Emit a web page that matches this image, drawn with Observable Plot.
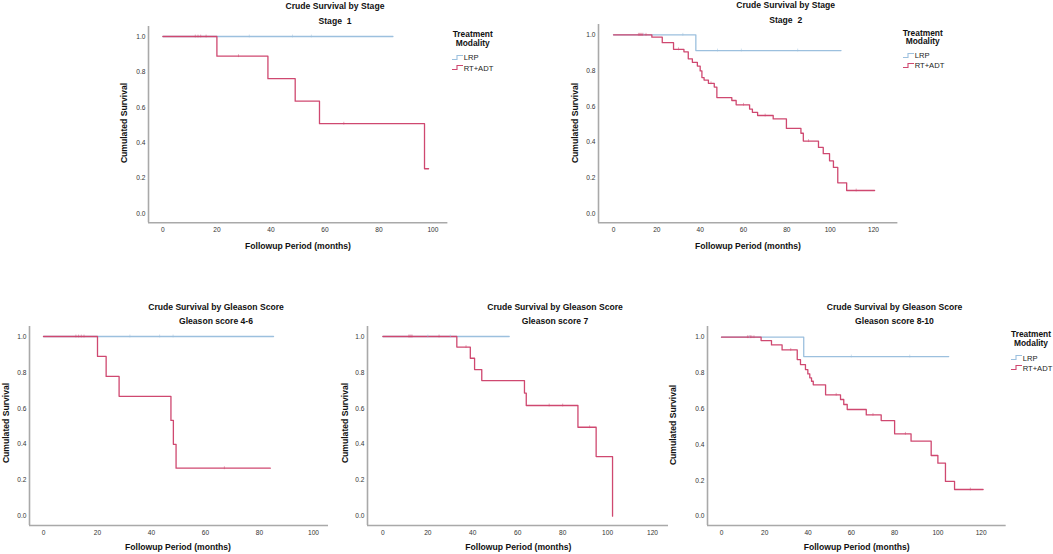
<!DOCTYPE html>
<html>
<head>
<meta charset="utf-8">
<script src="https://cdn.jsdelivr.net/npm/d3@7"></script>
<script src="https://cdn.jsdelivr.net/npm/@observablehq/plot@0.6"></script>
<style>
  html, body { margin: 0; padding: 0; background: #fff; }
  #root { position: relative; width: 1053px; height: 554px; overflow: hidden; background: #fff;
          font-family: "Liberation Sans", Arial, sans-serif; color: #111; }
  .abs { position: absolute; white-space: pre; }
  .title { font-weight: bold; font-size: 8.6px; transform: translate(-50%, -50%); }
  .axlab { font-weight: bold; font-size: 8.6px; transform: translate(-50%, -50%); }
  .ylab { font-weight: bold; font-size: 8.6px; transform: translate(-50%, -50%) rotate(-90deg); }
  .legt { font-weight: bold; font-size: 8.4px; transform: translate(-50%, -50%); }
  .legi { font-size: 7.6px; transform: translate(0, -50%); display: flex; align-items: center; color: #222; }
  .plotbox { position: absolute; }
</style>
</head>
<body>
<div id="root"></div>
<script>
// ---------- data ----------
const seriesNames = ["LRP", "RT+ADT"];
const seriesColors = ["#9cc0de", "#cf4870"];
const yTickValues = [0, 0.2, 0.4, 0.6, 0.8, 1.0];
const xTicks100 = [0, 20, 40, 60, 80, 100];
const xTicks120 = [0, 20, 40, 60, 80, 100, 120];

// Stage 1
const s1LrpTime = [0, 85.2];
const s1LrpSurv = [1, 1];
const s1RtTime = [0, 20, 38.9, 49, 58, 96.9, 98.4];
const s1RtSurv = [1, 0.889, 0.762, 0.635, 0.508, 0.254, 0.254];
const s1LrpCens = [32, 48, 55];
const s1RtCens = [12, 13, 14, 16, 28, 67];

// Stage 2
const s2LrpTime = [0, 38, 105];
const s2LrpSurv = [1, 0.912, 0.912];
const s2RtTime = [0, 17.7, 22.5, 27.7, 32.5, 34.5, 36.4, 38.7, 40, 40.8, 41.8, 43.8, 46.5, 47.7, 54.6, 56.6, 62.8, 64.1, 66.5, 73.7, 79.8, 86.5, 87.6, 94.6, 96.8, 99.7, 101.5, 103.5, 107.6, 120.5];
const s2RtSurv = [1, 0.987, 0.956, 0.919, 0.905, 0.866, 0.846, 0.825, 0.798, 0.761, 0.747, 0.729, 0.708, 0.649, 0.633, 0.609, 0.585, 0.567, 0.549, 0.530, 0.477, 0.45, 0.406, 0.371, 0.336, 0.296, 0.259, 0.173, 0.130, 0.130];
const s2LrpCens = [14, 32, 48, 59, 85];
const s2RtCens = [11.5, 12, 12.5, 13, 13.5, 15, 30, 45, 60, 70, 90, 112];

// Gleason 4-6
const g1LrpTime = [0, 85.2];
const g1LrpSurv = [1, 1];
const g1RtTime = [0, 20, 23.2, 28, 47.2, 48.1, 49.1, 84];
const g1RtSurv = [1, 0.889, 0.778, 0.667, 0.533, 0.4, 0.267, 0.267];
const g1LrpCens = [32, 43, 48];
const g1RtCens = [12, 13, 14, 15, 67];

// Gleason 7
const g2LrpTime = [0, 56.2];
const g2LrpSurv = [1, 1];
const g2RtTime = [0, 32.9, 38.9, 40.8, 44, 63, 63.8, 86.8, 94.9, 102.2];
const g2RtSurv = [1, 0.941, 0.879, 0.816, 0.755, 0.685, 0.616, 0.495, 0.332, 0];
const g2LrpCens = [20, 30];
const g2RtCens = [11.5, 12, 12.5, 13, 25, 37, 74, 80, 92];

// Gleason 8-10
const g3LrpTime = [0, 38, 105];
const g3LrpSurv = [1, 0.892, 0.892];
const g3RtTime = [0, 18.3, 23.1, 28, 35, 36.5, 38.8, 39.9, 40.8, 41.6, 42.4, 48.1, 55, 56.5, 58.1, 66.9, 73.8, 80, 87.6, 96.9, 100, 103.5, 107.7, 120.9];
const g3RtSurv = [1, 0.981, 0.957, 0.929, 0.875, 0.847, 0.819, 0.795, 0.773, 0.754, 0.734, 0.678, 0.652, 0.624, 0.596, 0.566, 0.534, 0.46, 0.419, 0.339, 0.296, 0.194, 0.149, 0.149];
const g3LrpCens = [13, 60, 87];
const g3RtCens = [12, 12.7, 13.4, 14, 15, 32, 53, 70, 85, 115];

// ---------- helpers ----------
const root = document.getElementById("root");
const FONT = '"Liberation Sans", Arial, sans-serif';

function rows(ts, ss, name) { return ts.map((t, i) => ({t, s: ss[i], g: name})); }
function stepAt(ts, ss, t) { let v = ss[0]; for (let i = 0; i < ts.length; i++) if (ts[i] <= t) v = ss[i]; return v; }
function cens(ts, ss, cs, name) { return cs.map(c => { const v = stepAt(ts, ss, c); return {t: c, s1: v - 0.008, s2: v + 0.008, g: name}; }); }

function addText(cls, text, x, y) {
  const d = document.createElement("div");
  d.className = "abs " + cls;
  d.textContent = text;
  d.style.left = x + "px";
  d.style.top = y + "px";
  root.appendChild(d);
}

function stepIcon(color) {
  return `<svg width="11" height="6" style="margin-right:1px;overflow:visible"><path d="M0,5 H5 V1 H11" fill="none" stroke="${color}" stroke-width="1.1"/></svg>`;
}
function addLegend(cx, ty, ix, iy1, iy2) {
  addText("legt", "Treatment", cx, ty);
  addText("legt", "Modality", cx, ty + 8.4);
  [iy1, iy2].forEach((yy, i) => {
    const d = document.createElement("div");
    d.className = "abs legi";
    d.style.left = ix + "px";
    d.style.top = yy + "px";
    d.innerHTML = stepIcon(seriesColors[i]) + "<span>" + seriesNames[i] + "</span>";
    root.appendChild(d);
  });
}

function panel(cfg) {
  const k = cfg.k, ky = cfg.y0 - cfg.y1;
  const xd = [(cfg.axL - cfg.t0) / k, (cfg.axR - cfg.t0) / k];
  const yd = [(cfg.y0 - cfg.axB) / ky, (cfg.y0 - cfg.axT) / ky];
  const L = cfg.axL - 32, T = cfg.axT - 4, R = cfg.axR + 4, B = cfg.axB + 16;
  const lrp = rows(cfg.lrpT, cfg.lrpS, "LRP");
  const rt = rows(cfg.rtT, cfg.rtS, "RT+ADT");
  const cl = cens(cfg.lrpT, cfg.lrpS, cfg.lrpC, "LRP");
  const cr = cens(cfg.rtT, cfg.rtS, cfg.rtC, "RT+ADT");
  const p = Plot.plot({
    width: R - L, height: B - T,
    marginLeft: cfg.axL - L, marginRight: R - cfg.axR,
    marginTop: cfg.axT - T, marginBottom: B - cfg.axB,
    x: {domain: xd},
    y: {domain: yd},
    color: {domain: seriesNames, range: seriesColors},
    style: {fontFamily: FONT, fontSize: "6.6px", color: "#333", background: "transparent", overflow: "visible"},
    marks: [
      Plot.axisX({ticks: cfg.xticks, tickSize: 0, tickPadding: 4.5, label: null, fill: "#333"}),
      Plot.axisY({ticks: yTickValues, tickSize: 0, tickPadding: 3, tickFormat: d3.format(".1f"), label: null, fill: "#333"}),
      Plot.ruleX([xd[0]], {stroke: "#a9a9a9", strokeWidth: 1.6}),
      Plot.ruleY([yd[0]], {stroke: "#a9a9a9", strokeWidth: 1.6}),
      Plot.line(lrp, {x: "t", y: "s", stroke: "g", curve: "step-after", strokeWidth: 1.3}),
      Plot.line(rt, {x: "t", y: "s", stroke: "g", curve: "step-after", strokeWidth: 1.3}),
      Plot.ruleX(cl, {x: "t", y1: "s1", y2: "s2", stroke: "g", strokeWidth: 0.6, strokeOpacity: 0.8}),
      Plot.ruleX(cr, {x: "t", y1: "s1", y2: "s2", stroke: "g", strokeWidth: 0.6, strokeOpacity: 0.8})
    ]
  });
  const box = document.createElement("div");
  box.className = "plotbox";
  box.style.left = L + "px";
  box.style.top = T + "px";
  box.appendChild(p);
  root.appendChild(box);
  addText("title", cfg.title, cfg.titleX, cfg.titleY);
  addText("title", cfg.sub, cfg.titleX, cfg.titleY + 14.5);
  addText("axlab", "Followup Period (months)", cfg.xlabX, cfg.xlabY);
  addText("ylab", "Cumulated Survival", cfg.ylabX, cfg.ylabY);
}

// ---------- panels ----------
panel({t0: 162.7, k: 2.7, axL: 148.3, axR: 447.7, y1: 36, y0: 213.3, axT: 26, axB: 222.3, xticks: xTicks100,
  lrpT: s1LrpTime, lrpS: s1LrpSurv, rtT: s1RtTime, rtS: s1RtSurv, lrpC: s1LrpCens, rtC: s1RtCens,
  title: "Crude Survival by Stage", sub: "Stage  1", titleX: 335, titleY: 6,
  xlabX: 298, xlabY: 246, ylabX: 124.3, ylabY: 123});

panel({t0: 613.3, k: 2.167, axL: 598.3, axR: 897.7, y1: 34.3, y0: 213.3, axT: 24, axB: 222.3, xticks: xTicks120,
  lrpT: s2LrpTime, lrpS: s2LrpSurv, rtT: s2RtTime, rtS: s2RtSurv, lrpC: s2LrpCens, rtC: s2RtCens,
  title: "Crude Survival by Stage", sub: "Stage  2", titleX: 785.7, titleY: 5,
  xlabX: 748, xlabY: 246, ylabX: 575, ylabY: 123.3});

panel({t0: 43.3, k: 2.7, axL: 29.3, axR: 328.3, y1: 336, y0: 515.7, axT: 326, axB: 525, xticks: xTicks100,
  lrpT: g1LrpTime, lrpS: g1LrpSurv, rtT: g1RtTime, rtS: g1RtSurv, lrpC: g1LrpCens, rtC: g1RtCens,
  title: "Crude Survival by Gleason Score", sub: "Gleason score 4-6", titleX: 216, titleY: 306.7,
  xlabX: 178, xlabY: 547.3, ylabX: 5.5, ylabY: 423});

panel({t0: 382.7, k: 2.247, axL: 367.3, axR: 668.3, y1: 336, y0: 515.7, axT: 326, axB: 525, xticks: xTicks120,
  lrpT: g2LrpTime, lrpS: g2LrpSurv, rtT: g2RtTime, rtS: g2RtSurv, lrpC: g2LrpCens, rtC: g2RtCens,
  title: "Crude Survival by Gleason Score", sub: "Gleason score 7", titleX: 555, titleY: 306.7,
  xlabX: 518.3, xlabY: 547.3, ylabX: 345, ylabY: 423.3});

panel({t0: 721, k: 2.164, axL: 707, axR: 1005.7, y1: 336.7, y0: 515.7, axT: 326, axB: 525, xticks: xTicks120,
  lrpT: g3LrpTime, lrpS: g3LrpSurv, rtT: g3RtTime, rtS: g3RtSurv, lrpC: g3LrpCens, rtC: g3RtCens,
  title: "Crude Survival by Gleason Score", sub: "Gleason score 8-10", titleX: 894.5, titleY: 306.7,
  xlabX: 856.7, xlabY: 547.3, ylabX: 673.3, ylabY: 425});

// ---------- legends ----------
addLegend(472.7, 34.3, 451.7, 57.3, 67.7);
addLegend(922.7, 32.7, 902.7, 55, 65.3);
addLegend(1031, 334.3, 1010.7, 357.7, 367.7);
</script>
</body>
</html>
